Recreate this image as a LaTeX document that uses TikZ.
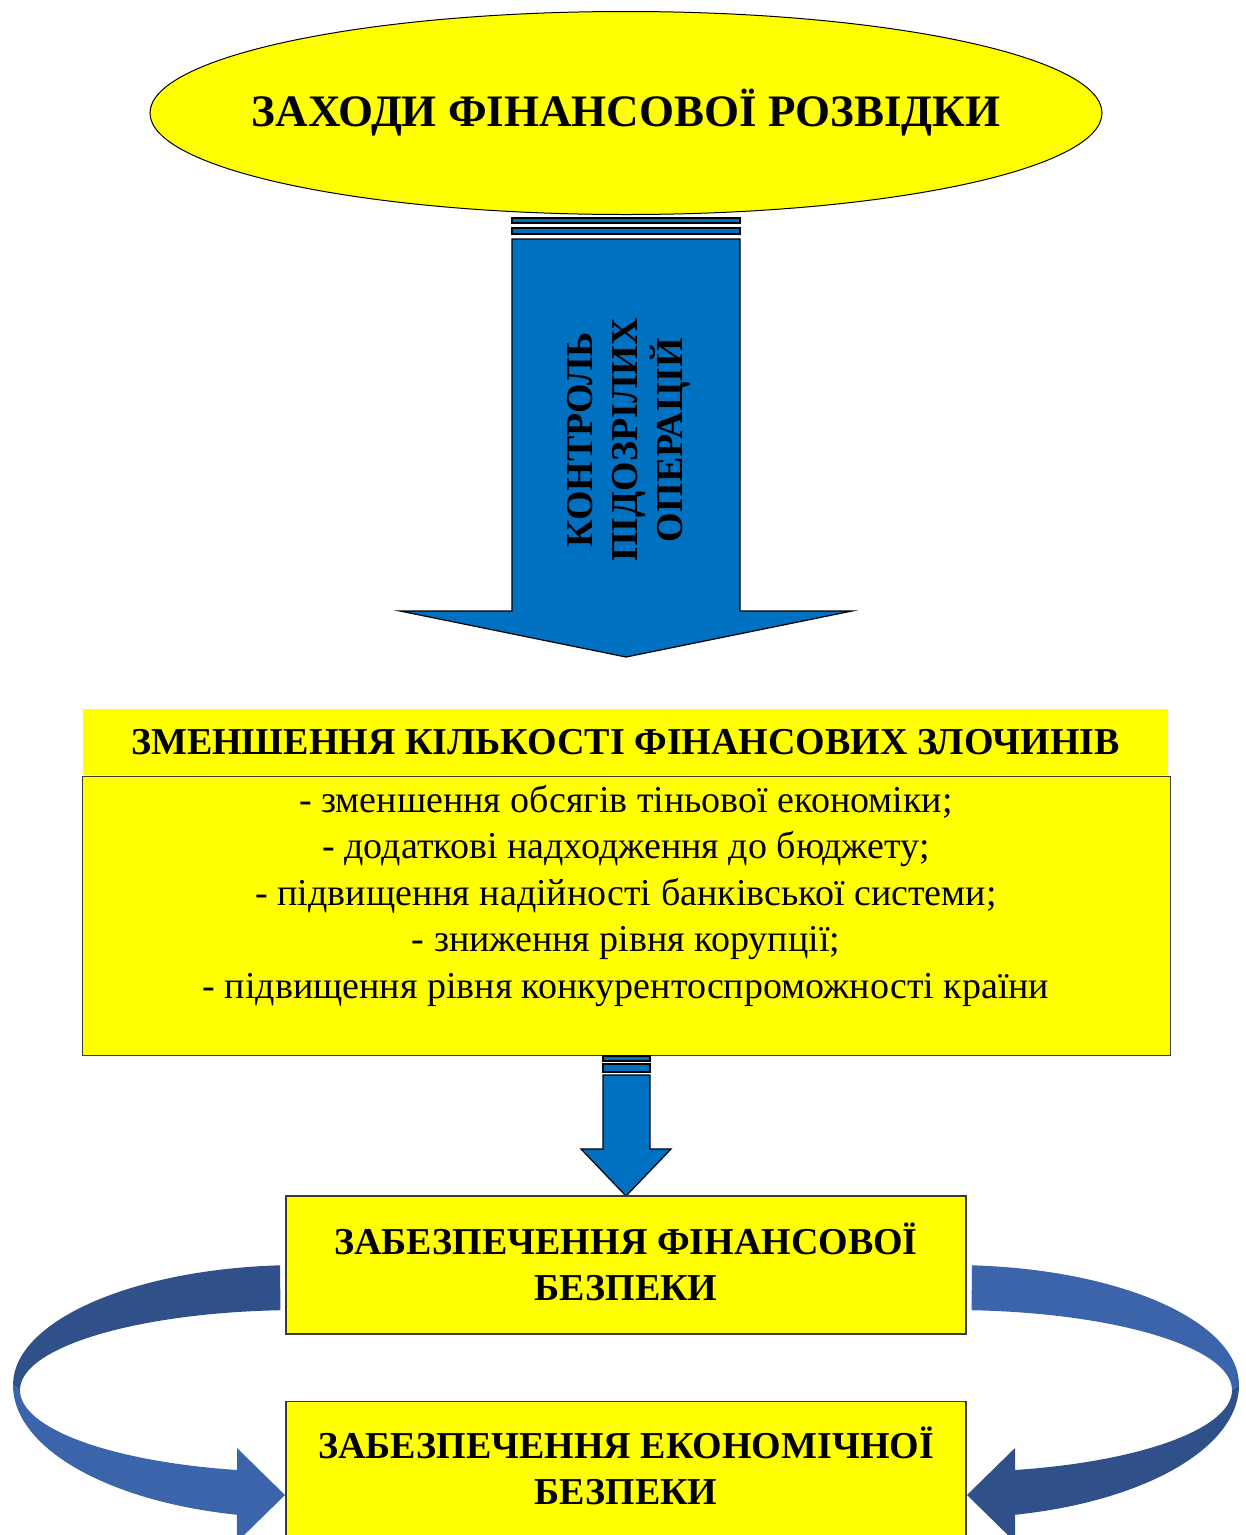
\documentclass[tikz,border=0pt]{standalone}
\usepackage{fontspec}
\setmainfont{Liberation Serif}
\usetikzlibrary{shapes.geometric}
\definecolor{boxyellow}{HTML}{FFFF00}
\definecolor{arrowblue}{HTML}{0070C0}
\definecolor{ribbonlight}{HTML}{3C64AA}
\definecolor{ribbondark}{HTML}{2F5088}
\definecolor{edgegray}{HTML}{3A3A3A}

\begin{document}
\begin{tikzpicture}[x=1pt,y=-1pt,
  blockarrow/.style={fill=arrowblue, draw=black, line width=1.2pt, line join=miter},
  panel/.style={fill=boxyellow, draw=edgegray, line width=1.3pt, inner sep=0pt},
  heading/.style={font=\bfseries\fontsize{38}{46}\selectfont, align=center},
  item/.style={font=\fontsize{38}{44}\selectfont, anchor=base, inner sep=0pt}]
\useasboundingbox (0,0) rectangle (1246,1535);
\clip (0,0) rectangle (1246,1535);

% title ellipse
\node[ellipse, draw=black, line width=1pt, fill=boxyellow,
      minimum width=952pt, minimum height=203pt, inner sep=0pt] (title)
      at (626,113) {};
\node[font=\bfseries\fontsize{45}{50}\selectfont] (titletext) at (title.center)
      {ЗАХОДИ ФІНАНСОВОЇ РОЗВІДКИ};

% big striped block arrow
\draw[blockarrow] (512,218) rectangle (740,223);
\draw[blockarrow] (512,228) rectangle (740,234);
\draw[blockarrow] (512,239) -- (740,239) -- (740,611) -- (852,611)
  -- (626,657) -- (400,611) -- (512,611) -- cycle;
\node[heading, rotate=90, font=\bfseries\fontsize{38}{45}\selectfont] (control)
  at (629,440) {КОНТРОЛЬ\\ПІДОЗРІЛИХ\\ОПЕРАЦІЙ};

% reduction of financial crimes
\node[fill=boxyellow, minimum width=1085pt, minimum height=66pt, inner sep=0pt,
      font=\bfseries\fontsize{38}{46}\selectfont] (head) at (625.5,742)
      {ЗМЕНШЕННЯ КІЛЬКОСТІ ФІНАНСОВИХ ЗЛОЧИНІВ};
\node[panel, minimum width=1088pt, minimum height=279pt, anchor=north west]
  (body) at (82,776) {};
\node[item] (l1) at (626,812) {- зменшення обсягів тіньової економіки;};
\node[item] (l2) at (626,858.5) {- додаткові надходження до бюджету;};
\node[item] (l3) at (626,905) {- підвищення надійності банківської системи;};
\node[item] (l4) at (626,951.5) {- зниження рівня корупції;};
\node[item] (l5) at (626,998) {- підвищення рівня конкурентоспроможності країни};

% small striped block arrow
\draw[blockarrow] (603,1056) rectangle (650,1061);
\draw[blockarrow] (603,1064) rectangle (650,1072);
\draw[blockarrow] (603,1075) -- (650,1075) -- (650,1149) -- (671,1149)
  -- (626,1196) -- (581,1149) -- (603,1149) -- cycle;

% left curved ribbon arrow
\fill[ribbondark] (280,1265.3)
  arc[start angle=266, end angle=180, x radius=287, y radius=120]
  -- (20,1390)
  arc[start angle=180, end angle=266, x radius=280, y radius=80] -- cycle;
\fill[ribbonlight] (13,1385)
  arc[start angle=180, end angle=102.7, x radius=287, y radius=133]
  -- (237,1542) -- (285,1495) -- (237,1448) -- (237,1470)
  arc[start angle=103, end angle=180, x radius=280, y radius=82] -- cycle;

% right curved ribbon arrow
\fill[ribbonlight] (972,1265.3)
  arc[start angle=274, end angle=360, x radius=287, y radius=120]
  -- (1232,1390)
  arc[start angle=360, end angle=274, x radius=280, y radius=80] -- cycle;
\fill[ribbondark] (1239,1385)
  arc[start angle=0, end angle=77.3, x radius=287, y radius=133]
  -- (1015,1542) -- (967,1495) -- (1015,1448) -- (1015,1470)
  arc[start angle=77, end angle=0, x radius=280, y radius=82] -- cycle;

% security boxes
\node[panel, minimum width=680pt, minimum height=138pt] (fin)
  at (626,1265) {};
\node[heading] (fintext) at (626,1262) {ЗАБЕЗПЕЧЕННЯ ФІНАНСОВОЇ\\БЕЗПЕКИ};
\node[panel, minimum width=680pt, minimum height=137pt, anchor=north] (econ)
  at (626,1401) {};
\node[heading] (econtext) at (626,1466) {ЗАБЕЗПЕЧЕННЯ ЕКОНОМІЧНОЇ\\БЕЗПЕКИ};
\end{tikzpicture}
\end{document}
